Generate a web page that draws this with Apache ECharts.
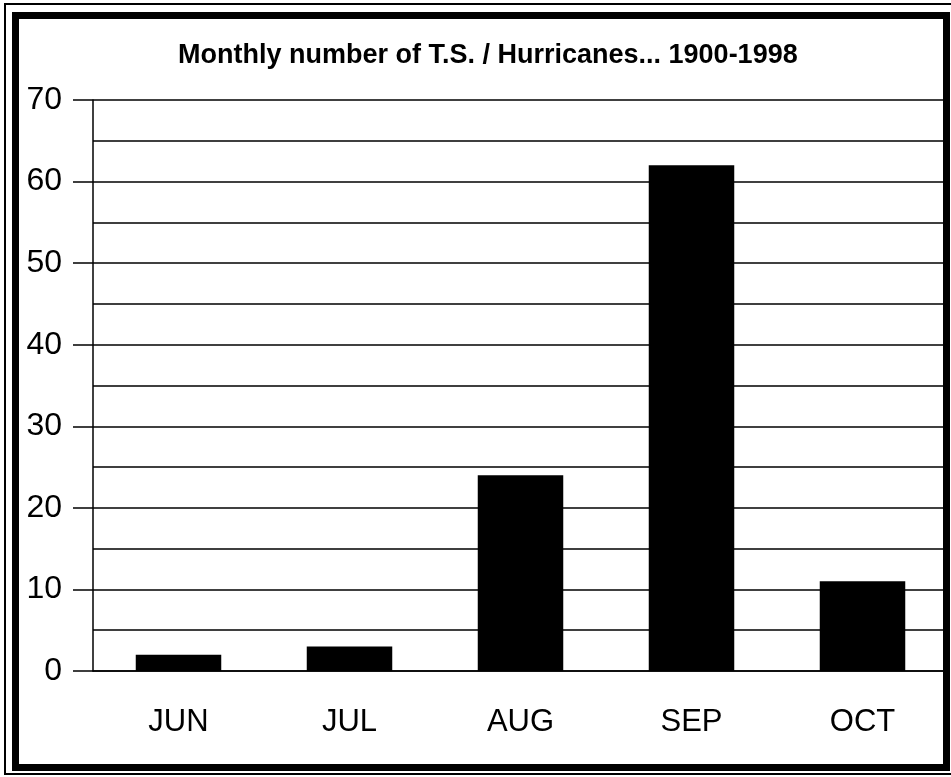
<!DOCTYPE html>
<html>
<head>
<meta charset="utf-8">
<title>Monthly number of T.S. / Hurricanes</title>
<script src="https://cdn.jsdelivr.net/npm/echarts@6/dist/echarts.min.js"></script>
<style>
  html, body { margin: 0; padding: 0; background: #fff; }
  .frame-outer {
    position: absolute; left: 4px; top: 3px; width: 950px; height: 772px;
    border: 2px solid #000; box-sizing: border-box;
  }
  .frame-inner {
    position: absolute; left: 12px; top: 12px; width: 938px; height: 759px;
    border: 7px solid #000; box-sizing: border-box;
  }
  #chart { position: absolute; left: 0; top: 0; width: 951px; height: 777px; }
</style>
</head>
<body>
<div class="frame-outer"></div>
<div class="frame-inner"></div>
<div id="chart"></div>
<script>
// 数据
const months = ['JUN', 'JUL', 'AUG', 'SEP', 'OCT'];
const stormCounts = [2, 3, 24, 62, 11];
const titleText = 'Monthly number of T.S. / Hurricanes... 1900-1998';

const chart = echarts.init(document.getElementById('chart'));

const option = {
  animation: false,
  backgroundColor: 'transparent',
  title: {
    text: titleText,
    left: 173,
    top: 37,
    textStyle: {
      fontFamily: 'Liberation Sans, Arial, sans-serif',
      fontSize: 27,
      fontWeight: 'bold',
      color: '#000'
    }
  },
  grid: {
    left: 93,
    right: 3,
    top: 100,
    bottom: 106
  },
  xAxis: {
    type: 'category',
    data: months,
    axisLine: { lineStyle: { color: '#000', width: 1.5 } },
    axisTick: { alignWithLabel: true, length: 19, lineStyle: { color: '#000', width: 1.5 } },
    axisLabel: {
      margin: 36,
      color: '#000',
      fontFamily: 'Liberation Sans, Arial, sans-serif',
      fontSize: 31
    }
  },
  yAxis: {
    type: 'value',
    min: 0,
    max: 70,
    interval: 10,
    axisLine: { show: true, lineStyle: { color: '#000', width: 1.5 } },
    axisTick: { show: true, length: 20, lineStyle: { color: '#000', width: 1.5 } },
    axisLabel: {
      margin: 31,
      color: '#000',
      fontFamily: 'Liberation Sans, Arial, sans-serif',
      fontSize: 32
    },
    splitLine: { lineStyle: { color: '#000', width: 1.5 } },
    // 5 的位置只画网格线，不画刻度
    minorTick: { show: false, splitNumber: 2 },
    minorSplitLine: { show: true, lineStyle: { color: '#000', width: 1.5 } }
  },
  series: [{
    type: 'bar',
    data: stormCounts,
    barWidth: '50%',
    itemStyle: { color: '#000' }
  }]
};

chart.setOption(option);
</script>
</body>
</html>
